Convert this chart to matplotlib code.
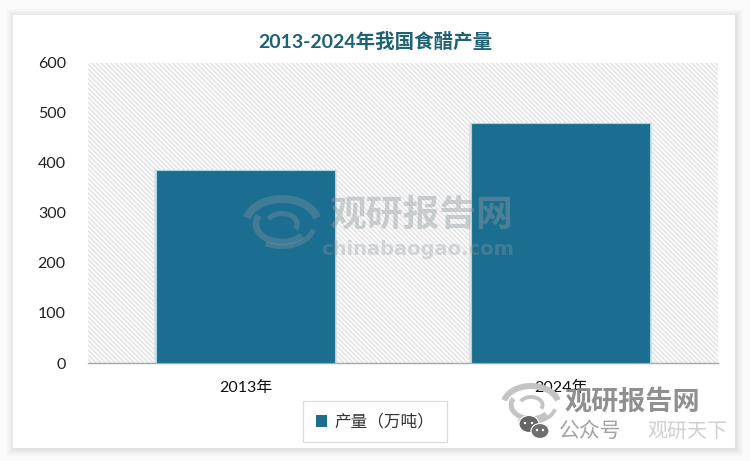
import matplotlib
matplotlib.use('Agg')
import matplotlib.pyplot as plt
from matplotlib.patches import Rectangle, Arc, Ellipse

plt.rcParams['font.family'] = ['Lato', 'Noto Sans CJK SC', 'DejaVu Sans']

# Data
categories = ['2013年', '2024年']
production = [385, 480]
y_ticks = [0, 100, 200, 300, 400, 500, 600]
title_text = '2013-2024年我国食醋产量'
series_name = '产量（万吨）'

W, H = 750, 461
BAR = '#1c6e91'
fig = plt.figure(figsize=(W / 100, H / 100), dpi=100, facecolor='#fbfbfb')

# Background layer in pixels: shadowed card
bg = fig.add_axes([0, 0, 1, 1], zorder=0)
bg.set_xlim(0, W); bg.set_ylim(H, 0); bg.axis('off')
for grow, col in [(7, '#f6f6f6'), (5, '#f0f0f0'), (3, '#e9e9e9'), (1, '#e2e2e2')]:
    bg.add_patch(Rectangle((13 - grow + 1, 15 - grow + 1), 722 + 2 * grow, 433 + 2 * grow,
                           fc=col, ec='none'))
bg.add_patch(Rectangle((13, 15), 722, 433, fc='white', ec='none'))

# Plot
plt.rcParams['hatch.linewidth'] = 0.5
ax = fig.add_axes([88 / W, 1 - 363 / H, 630 / W, 300 / H], zorder=1)
ax.set_facecolor('#f8f8f8')
ax.patch.set_hatch('\\' * 7)
ax.patch.set_edgecolor('#d6d6d6')
ax.patch.set_linewidth(0)

xs = range(len(categories))
# soft bar halo
ax.bar(xs, production, width=0.582, color='#dfe3e4', zorder=2)
bars = ax.bar(xs, production, width=0.568, color=BAR, edgecolor='#a9d3e6', linewidth=0.8,
              zorder=3, label=series_name)
ax.set_xlim(-0.5, 1.5)
ax.set_ylim(0, 600)
ax.set_yticks(y_ticks)
ax.set_xticks(list(xs))
ax.set_xticklabels(categories, fontsize=11.5, color='#111111')
ax.tick_params(axis='both', length=0)
ax.tick_params(axis='y', labelsize=11.5, labelcolor='#222222', pad=16)
ax.tick_params(axis='x', pad=13)
for s in ['top', 'left', 'right']:
    ax.spines[s].set_visible(False)
ax.spines['bottom'].set_color('#a8a8a8')
ax.spines['bottom'].set_linewidth(1)

fig.text(375 / W, 1 - 41 / H, title_text, ha='center', va='center', fontsize=14,
         fontweight='bold', color='#1f6274')

leg = ax.legend(loc='center', bbox_to_anchor=(375 / W, 1 - 421.5 / H), bbox_transform=fig.transFigure,
                fontsize=12, frameon=True, fancybox=False, edgecolor='#dcdcdc', facecolor='white',
                framealpha=1, handlelength=0.7, handleheight=0.7, handletextpad=0.45,
                borderpad=0.75, borderaxespad=0)
leg.get_frame().set_linewidth(0.9)
for t in leg.get_texts():
    t.set_color('#333333')
for h in leg.legend_handles:
    h.set_edgecolor('none')

# Watermarks overlay
ov = fig.add_axes([0, 0, 1, 1], zorder=3)
ov.set_xlim(0, W); ov.set_ylim(H, 0); ov.axis('off'); ov.patch.set_alpha(0)


def swirl(cx, cy, s, col, a):
    for r, st, en, lw in [(1.0, 190, 350, 5.5), (0.72, 30, 200, 4.5), (0.42, 200, 380, 3.5), (0.9, 10, 130, 3.5)]:
        ov.add_patch(Arc((cx, cy), 2 * r * s * 1.45, 2 * r * s, theta1=st, theta2=en,
                         ec=col, lw=lw * s / 24, alpha=a))


W1 = '#8f9aa0'
ov.text(421.5, 214, '观研报告网', ha='center', va='center', fontsize=26.5, fontweight='bold', color=W1, alpha=0.42)
ov.text(418, 249, 'chinabaogao.com', ha='center', va='center', fontsize=14, fontweight='bold',
        color=W1, alpha=0.32, family=['DejaVu Sans'])
swirl(282, 224, 25, W1, 0.32)

W2 = '#8a8a8a'
ov.text(632, 401, '观研报告网', ha='center', va='center', fontsize=19.5, fontweight='bold', color=W2, alpha=0.95)
swirl(531, 405, 19, '#c4c4c4', 1)
ov.add_patch(Ellipse((529, 424), 20, 17, fc='#666666', ec='white', lw=0.8))
ov.add_patch(Ellipse((540, 431), 18, 15, fc='#6f6f6f', ec='white', lw=0.8))
for cx, cy in [(525, 423), (532, 423), (537, 430), (543, 430)]:
    ov.add_patch(Ellipse((cx, cy), 2.4, 2.4, fc='white', ec='none'))
ov.text(590, 431, '公众号', ha='center', va='center', fontsize=15, color='#8c8c8c', alpha=0.8)
ov.text(687, 431, '观研天下', ha='center', va='center', fontsize=14.4, color='#b0b0b0', alpha=0.6)

fig.savefig('out.png', dpi=100, facecolor=fig.get_facecolor())
